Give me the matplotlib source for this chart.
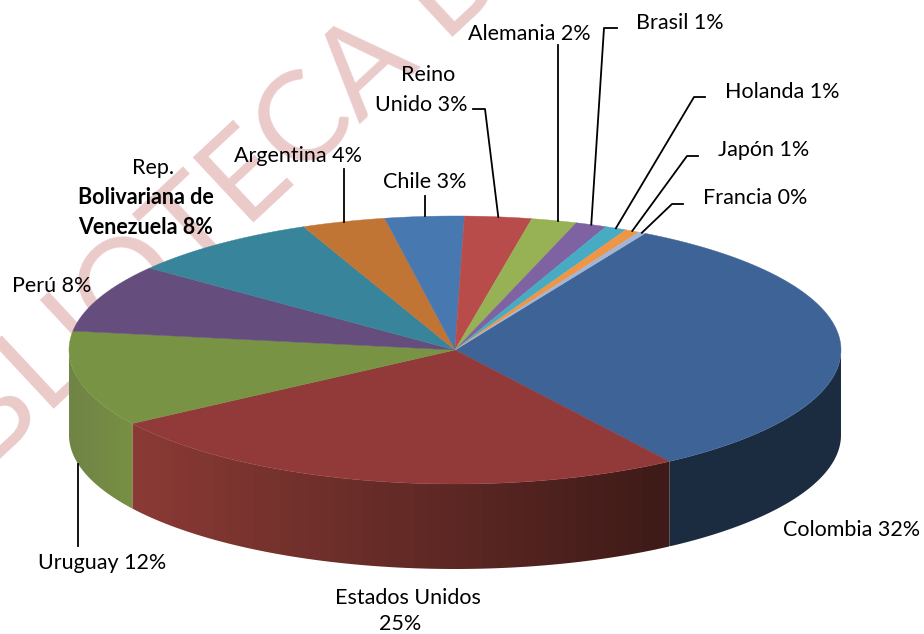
import numpy as np
import matplotlib
matplotlib.use('Agg')
import matplotlib.pyplot as plt
from matplotlib.patches import Polygon

paises = ['Colombia', 'Estados Unidos', 'Uruguay', 'Perú', 'Rep. Bolivariana de Venezuela',
          'Argentina', 'Chile', 'Reino Unido', 'Alemania', 'Brasil', 'Holanda', 'Japón', 'Francia']
# shares (labels are rounded)
valores = [32.4, 25.1, 11.5, 8.2, 8.1, 3.5, 3.3, 2.8, 1.9, 1.3, 0.9, 0.6, 0.3]
colores = ['#3E6497', '#923A39', '#789344', '#654E7E', '#38849A', '#C17535',
           '#4878B0', '#B84C4A', '#96B254', '#7F62A2', '#47ABC4', '#EE9645', '#A3B5D6']

# ellipse of the pie, in pixels
cx, cy, rx, ry = 455, 350, 386, 134
prof = 85
inicio = 29.5

fig = plt.figure(figsize=(9.24, 6.34), dpi=100)
ax = fig.add_axes([0, 0, 1, 1])
ax.set_xlim(0, 924)
ax.set_ylim(634, 0)
ax.axis('off')


def borde(a):
    # a in degrees, clockwise from the top of the ellipse
    a = np.radians(a)
    return cx + rx * np.sin(a), cy - ry * np.cos(a)


# watermark
ax.text(-98, 550, 'BIBLIOTECA DE', fontsize=90, color='#EBCACA', family='Lato',
        rotation=43, rotation_mode='anchor', ha='left', va='baseline', zorder=1)

fin = inicio + np.cumsum(valores) * 360 / sum(valores)
ini = np.r_[inicio, fin[:-1]]

# side wall, only the front half can be seen
lados = {0: ((27, 43, 64), (27, 43, 64)),
         1: ((62, 27, 24), (138, 58, 53)),
         2: ((120, 143, 68), (112, 132, 70))}
for i, (c1, c2) in lados.items():
    a0, a1 = max(ini[i], 90), min(fin[i], 270)
    angs = np.linspace(a0, a1, 80)
    xs, ys = borde(angs)
    contorno = np.column_stack([np.r_[xs, xs[::-1]], np.r_[ys, ys[::-1] + prof]])
    forma = Polygon(contorno, fc='none', ec='none', zorder=2)
    ax.add_patch(forma)
    # x runs right to left along the front, so the ramp goes from xs.min() side
    t = np.linspace(1, 0, 40)[:, None]
    rampa = (np.array(c2) * t + np.array(c1) * (1 - t)) / 255
    im = ax.imshow(rampa[None, :, :].reshape(1, 40, 3),
                   extent=[xs.min(), xs.max(), ys.max() + prof, ys.min()],
                   aspect='auto', interpolation='nearest', zorder=2)
    im.set_clip_path(forma)
ax.set_xlim(0, 924)
ax.set_ylim(634, 0)

# top face
for i in range(len(valores)):
    angs = np.linspace(ini[i], fin[i], max(int(fin[i] - ini[i]), 2) + 1)
    xs, ys = borde(angs)
    puntos = np.column_stack([np.r_[cx, xs], np.r_[cy, ys]])
    ax.add_patch(Polygon(puntos, fc=colores[i], ec=colores[i], lw=0.3, zorder=3))

# labels, one entry per printed line
fuente = dict(family='Lato', fontsize=15.5, color='black', ha='center', va='center', zorder=5)
lineas = [('Reino', 428, 75), ('Unido 3%', 421, 105), ('Rep.', 153, 168), ('Argentina 4%', 298, 156),
          ('Chile 3%', 425, 182), ('Alemania 2%', 529, 34), ('Brasil 1%', 680, 23),
          ('Holanda 1%', 782, 92), ('Japón 1%', 764, 150), ('Francia 0%', 755, 198),
          ('Perú 8%', 52, 286), ('Uruguay 12%', 102, 563), ('Colombia 32%', 852, 530),
          ('Estados Unidos', 408, 598), ('25%', 400, 624)]
for t, x, y in lineas:
    ax.text(x, y, t, **fuente)
ax.text(146, 198, 'Bolivariana de', fontweight='bold', **fuente)
ax.text(146, 227, 'Venezuela 8%', fontweight='bold', **fuente)

# leader lines: start on the slice middle, then elbow points
guias = {'Argentina': [(344, 169)], 'Chile': [(425, 196)], 'Reino Unido': [(485, 109), (473, 109)],
         'Alemania': [(558, 45)], 'Brasil': [(604, 28), (617, 28)], 'Holanda': [(694, 97), (705, 97)],
         'Japón': [(687, 156), (698, 156)], 'Francia': [(672, 204), (683, 204)]}
for nombre, resto in guias.items():
    i = paises.index(nombre)
    x0, y0 = borde((ini[i] + fin[i]) / 2)
    if nombre == 'Argentina' or nombre == 'Chile' or nombre == 'Alemania':
        x0 = resto[0][0]
    ax.plot([x0] + [p[0] for p in resto], [y0] + [p[1] for p in resto], color='black', lw=1.3, zorder=4)

i = paises.index('Uruguay')
xu, yu = borde((ini[i] + fin[i]) / 2)
ax.plot([xu, xu], [yu + prof, 546], color='black', lw=1.3, zorder=4)

fig.savefig('out.png', dpi=100)
